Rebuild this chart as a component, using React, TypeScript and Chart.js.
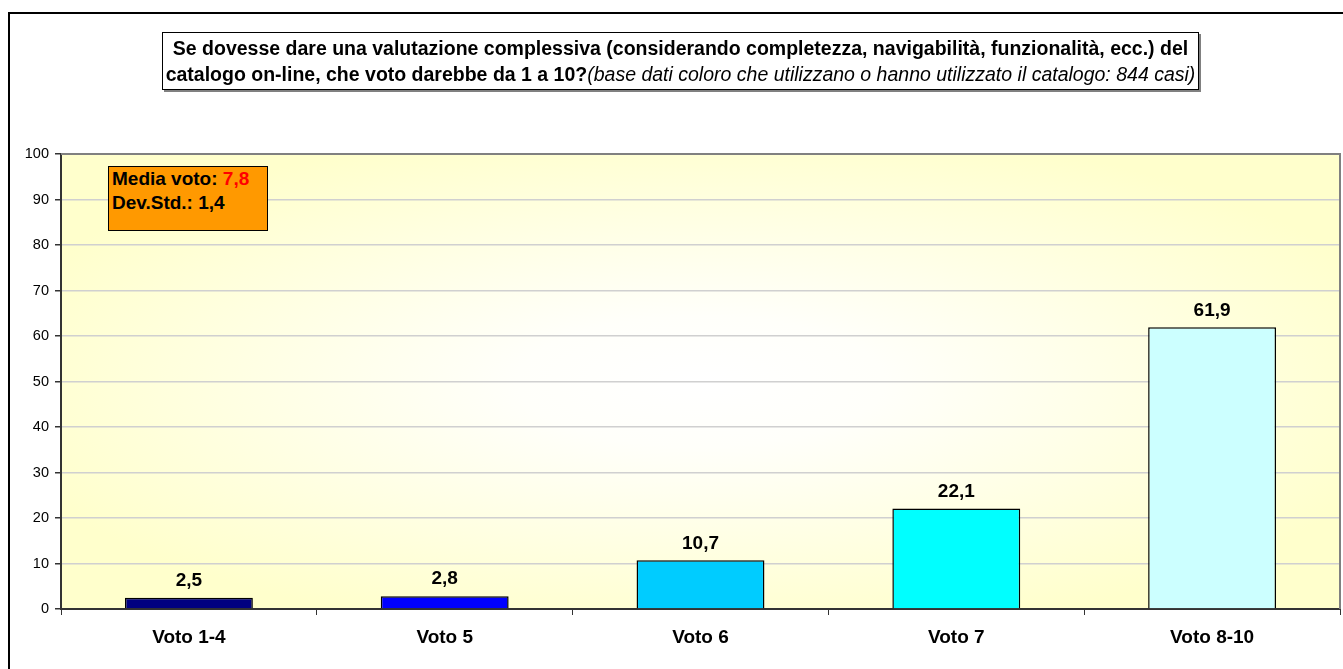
import React, { useEffect, useRef } from "react";
import { Chart, registerables } from "chart.js";

Chart.register(...registerables);

const categories = ["Voto 1-4", "Voto 5", "Voto 6", "Voto 7", "Voto 8-10"];
const values = [2.5, 2.8, 10.7, 22.1, 61.9];
const barColors = ["#000080", "#0000FF", "#00CCFF", "#00FFFF", "#CCFFFF"];
const yMin = 0;
const yMax = 100;
const yStep = 10;
const titleBold1 =
  "Se dovesse dare una valutazione complessiva (considerando completezza, navigabilità, funzionalità, ecc.) del";
const titleBold2 = "catalogo on-line, che voto darebbe da 1 a 10?";
const titleItalic = "(base dati coloro che utilizzano o hanno utilizzato il catalogo: 844 casi)";
const mediaLabel = "Media voto: ";
const mediaValue = "7,8";
const devLabel = "Dev.Std.: 1,4";

const FONT = "'Liberation Sans', Arial, Helvetica, sans-serif";

const fmt = (v: number) => v.toFixed(1).replace(".", ",");

const bgPlugin = {
  id: "plotBg",
  beforeDraw(chart: any) {
    const { ctx, chartArea } = chart;
    const { left, top, right, bottom } = chartArea;
    const w = right - left;
    const h = bottom - top;
    ctx.save();
    ctx.fillStyle = "#FFFFCC";
    ctx.fillRect(left, top, w, h);
    ctx.beginPath();
    ctx.rect(left, top, w, h);
    ctx.clip();
    ctx.translate(left + w / 2, top + h / 2);
    ctx.scale(w / 2, h / 2);
    const g = ctx.createRadialGradient(0, 0, 0, 0, 0, 1.15);
    g.addColorStop(0, "#FFFFFF");
    g.addColorStop(0.25, "#FFFFFA");
    g.addColorStop(1, "#FFFFCC");
    ctx.fillStyle = g;
    ctx.fillRect(-1, -1, 2, 2);
    ctx.restore();
  },
  beforeDatasetsDraw(chart: any) {
    const { ctx, chartArea } = chart;
    ctx.save();
    ctx.strokeStyle = "#808080";
    ctx.lineWidth = 2;
    ctx.beginPath();
    ctx.moveTo(chartArea.left, chartArea.top);
    ctx.lineTo(chartArea.right, chartArea.top);
    ctx.lineTo(chartArea.right, chartArea.bottom);
    ctx.stroke();
    ctx.restore();
  },
};

const labelPlugin = {
  id: "valueLabels",
  afterDatasetsDraw(chart: any) {
    const { ctx } = chart;
    const meta = chart.getDatasetMeta(0);
    ctx.save();
    ctx.font = `bold 19px ${FONT}`;
    ctx.fillStyle = "#000";
    ctx.textAlign = "center";
    ctx.textBaseline = "middle";
    meta.data.forEach((bar: any, i: number) => {
      ctx.fillText(fmt(values[i]), bar.x, bar.y - 17);
    });
    ctx.restore();
  },
};

export default function App() {
  const ref = useRef<HTMLCanvasElement | null>(null);

  useEffect(() => {
    if (!ref.current) return;
    const chart = new Chart(ref.current, {
      type: "bar",
      data: {
        labels: categories,
        datasets: [
          {
            data: values,
            backgroundColor: barColors,
            borderColor: "#000000",
            borderWidth: 1.5,
            barPercentage: 0.5,
            categoryPercentage: 1,
          },
        ],
      },
      options: {
        animation: false,
        responsive: false,
        maintainAspectRatio: false,
        devicePixelRatio: 1,
        layout: { padding: { left: 0, top: 154, right: 3, bottom: 20 } },
        plugins: {
          legend: { display: false },
          tooltip: { enabled: false },
          title: { display: false },
        },
        scales: {
          x: {
            grid: {
              display: true,
              drawOnChartArea: false,
              drawTicks: true,
              tickLength: 6,
              tickColor: "#333333",
              offset: true,
            },
            border: { color: "#333333", width: 2 },
            ticks: {
              color: "#000",
              font: { family: FONT, size: 19, weight: "bold" },
              padding: 11,
            },
            afterFit: (s: any) => {
              s.height = 40;
            },
          },
          y: {
            min: yMin,
            max: yMax,
            ticks: {
              stepSize: yStep,
              color: "#000",
              font: { family: FONT, size: 14.5 },
              padding: 6,
            },
            grid: {
              color: "#D0D0D0",
              tickColor: "#333333",
              tickLength: 6,
              lineWidth: 1.5,
            },
            border: { color: "#333333", width: 2 },
            afterFit: (s: any) => {
              s.width = 61;
            },
          },
        },
      },
      plugins: [bgPlugin, labelPlugin],
    });
    return () => chart.destroy();
  }, []);

  return (
    <div
      style={{
        position: "relative",
        width: 1343,
        height: 669,
        overflow: "hidden",
        background: "#fff",
        fontFamily: FONT,
      }}
    >
      <style>{"body{margin:0}"}</style>
      <canvas
        ref={ref}
        width={1343}
        height={669}
        style={{ position: "absolute", left: 0, top: 0, display: "block" }}
      />
      <div
        style={{
          position: "absolute",
          left: 8,
          top: 12,
          width: 1400,
          height: 700,
          borderTop: "2px solid #000",
          borderLeft: "2px solid #000",
          pointerEvents: "none",
        }}
      />
      <div
        style={{
          position: "absolute",
          left: 162,
          top: 32,
          width: 1037,
          height: 58,
          boxSizing: "border-box",
          border: "1px solid #000",
          boxShadow: "2px 2px 0 #808080",
          background: "#fff",
          textAlign: "center",
          fontSize: 19.5,
          lineHeight: "26px",
          paddingTop: 2,
          whiteSpace: "nowrap",
          color: "#000",
        }}
      >
        <div style={{ fontWeight: "bold" }}>{titleBold1}</div>
        <div>
          <span style={{ fontWeight: "bold" }}>{titleBold2}</span>
          <span style={{ fontStyle: "italic" }}>{titleItalic}</span>
        </div>
      </div>
      <div
        style={{
          position: "absolute",
          left: 108,
          top: 166,
          width: 160,
          height: 65,
          boxSizing: "border-box",
          border: "1px solid #000",
          background: "#FF9900",
          fontSize: 19,
          fontWeight: "bold",
          lineHeight: "24px",
          paddingLeft: 3,
          color: "#000",
          whiteSpace: "nowrap",
        }}
      >
        <div>
          {mediaLabel}
          <span style={{ color: "#FF0000" }}>{mediaValue}</span>
        </div>
        <div>{devLabel}</div>
      </div>
    </div>
  );
}
